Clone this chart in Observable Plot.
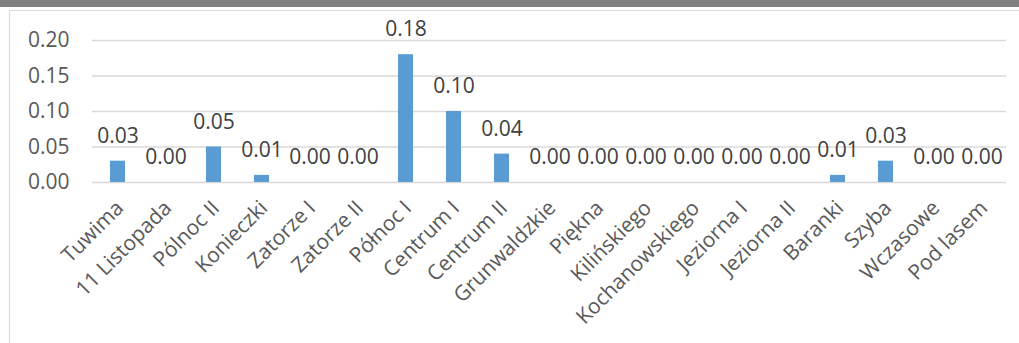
<!DOCTYPE html>
<html>
<head>
<meta charset="utf-8">
<script src="https://cdn.jsdelivr.net/npm/d3@7"></script>
<script src="https://cdn.jsdelivr.net/npm/@observablehq/plot@0.6"></script>
<style>
  html, body { margin: 0; padding: 0; background: #fff; overflow: hidden; }
  #wrap { position: relative; width: 1019px; height: 343px; overflow: hidden; font-family: "Open Sans", sans-serif; }
  #band { position: absolute; left: 0; top: 0; width: 1019px; height: 7px; background: #808080; }
  #frame { position: absolute; left: 9px; top: 10px; width: 1200px; height: 500px; border: 1.5px solid #d9d9d9; box-sizing: border-box; }
  #chart { position: absolute; left: 0; top: 0; }
</style>
</head>
<body>
<div id="wrap">
  <div id="band"></div>
  <div id="frame"></div>
  <div id="chart"></div>
</div>
<script>
const categories = ["Tuwima", "11 Listopada", "Pólnoc II", "Konieczki", "Zatorze I", "Zatorze II", "Północ I", "Centrum I", "Centrum II", "Grunwaldzkie", "Piękna", "Kilińskiego", "Kochanowskiego", "Jeziorna I", "Jeziorna II", "Baranki", "Szyba", "Wczasowe", "Pod lasem"];
const values = [0.03, 0.00, 0.05, 0.01, 0.00, 0.00, 0.18, 0.10, 0.04, 0.00, 0.00, 0.00, 0.00, 0.00, 0.00, 0.01, 0.03, 0.00, 0.00];
const yTicks = [0, 0.05, 0.10, 0.15, 0.20];

const data = categories.map((c, i) => ({category: c, value: values[i]}));

const chart = Plot.plot({
  width: 1019,
  height: 343,
  marginLeft: 92,
  marginRight: 13,
  marginTop: 40,
  marginBottom: 161,
  style: {background: "transparent", fontFamily: "'Open Sans', sans-serif", color: "#595959"},
  x: {domain: categories, paddingInner: 0.69, paddingOuter: 0.345, label: null},
  y: {domain: [0, 0.2], ticks: yTicks, label: null},
  marks: [
    Plot.ruleY(yTicks, {stroke: "#d9d9d9", strokeWidth: 1.4}),
    Plot.barY(data, {x: "category", y: "value", fill: "#5b9bd5"}),
    Plot.text(data, {x: "category", y: "value", text: d => d.value.toFixed(2), dy: -25, fontSize: 21, fill: "#404040"}),
    Plot.axisY({ticks: yTicks, tickSize: 0, tickPadding: 23, tickFormat: d => d.toFixed(2), fontSize: 21, fill: "#595959", label: null}),
    Plot.axisX({tickSize: 0, tickRotate: -45, tickPadding: 22, fontSize: 21, fill: "#595959", label: null, dx: 2})
  ]
});
document.getElementById("chart").appendChild(chart);
</script>
</body>
</html>
